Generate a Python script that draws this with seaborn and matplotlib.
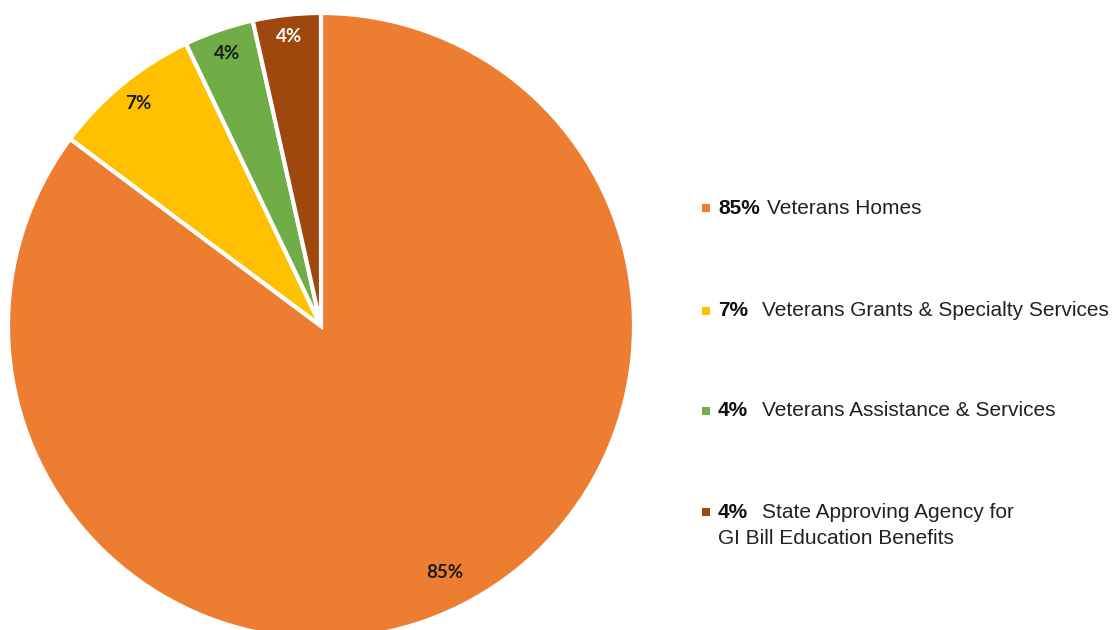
import matplotlib
matplotlib.use("Agg")
import matplotlib.pyplot as plt
import seaborn as sns
import numpy as np

categories = ["Veterans Homes", "Veterans Grants & Specialty Services",
              "Veterans Assistance & Services",
              "State Approving Agency for\nGI Bill Education Benefits"]
values = [85.2, 7.7, 3.6, 3.5]
pct_labels = ["85%", "7%", "4%", "4%"]
colors = ["#ED7D31", "#FFC000", "#70AD47", "#9E480E"]
label_colors = ["#1a1a1a", "#1a1a1a", "#1a1a1a", "#ffffff"]

sns.set_theme(style="white")
plt.rcParams['font.family'] = ['Liberation Sans', 'DejaVu Sans']
palette = sns.color_palette(colors)

W, H = 1118, 630
fig = plt.figure(figsize=(W / 100, H / 100), dpi=100)
fig.patch.set_facecolor("white")

# pie axes: center (321, 326) px, radius 313 px
cx, cy, r = 321, 326, 313
ax = fig.add_axes([(cx - r) / W, (H - cy - r) / H, 2 * r / W, 2 * r / H])
ax.axis("off")

wedges, _ = ax.pie(values, colors=palette, startangle=90, counterclock=False,
                   radius=1.0, wedgeprops=dict(edgecolor="white", linewidth=3))
ax.set_aspect("auto")
ax.set_xlim(-1, 1)
ax.set_ylim(-1, 1)

dists = [0.88, 0.92, 0.92, 0.93]
for w, lab, col, d in zip(wedges, pct_labels, label_colors, dists):
    ang = np.deg2rad((w.theta1 + w.theta2) / 2)
    ax.text(d * np.cos(ang), d * np.sin(ang), lab, ha="center", va="center",
            fontsize=13.5, fontweight="bold", color=col, family=["Lato", "DejaVu Sans"])

# legend overlay
lax = fig.add_axes([0, 0, 1, 1])
lax.set_xlim(0, W)
lax.set_ylim(H, 0)
lax.axis("off")
rows_y = [208, 311, 411, 512]
text_x = [767, 762, 762, 762]
for y, cat, pct, col, tx in zip(rows_y, categories, pct_labels, palette, text_x):
    lax.scatter([706], [y], marker="s", s=30, color=col, linewidths=0)
    lax.text(718, y, pct, ha="left", va="center", fontsize=15, fontweight="bold",
             color="#111111")
    lines = cat.split("\n")
    lax.text(tx, y, lines[0], ha="left", va="center", fontsize=15, color="#222222")
    if len(lines) > 1:
        lax.text(718, y + 26, lines[1], ha="left", va="center", fontsize=15,
                 color="#222222")

fig.savefig("out.png", dpi=100, facecolor="white")
